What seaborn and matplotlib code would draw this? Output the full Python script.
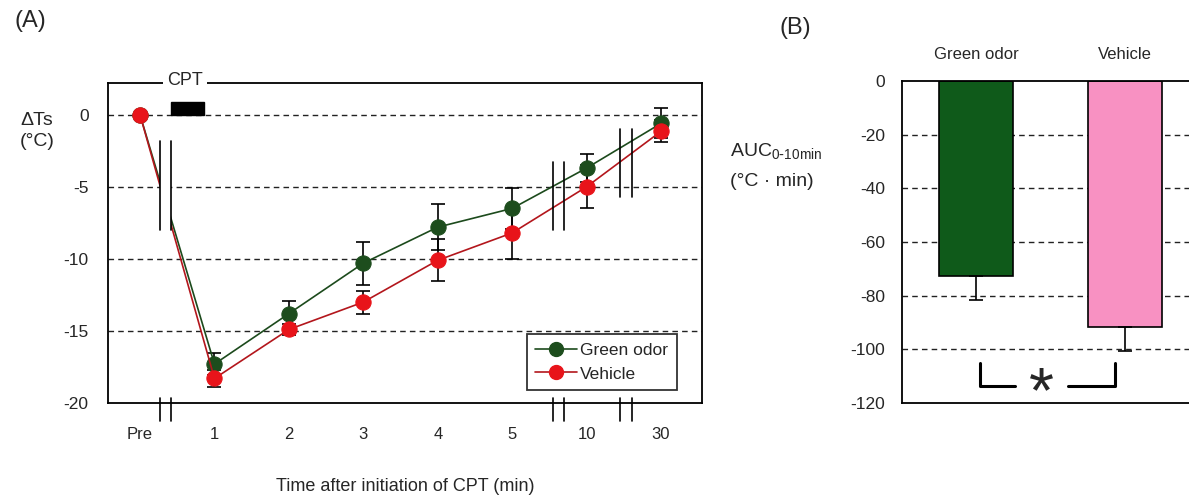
import numpy as np
import pandas as pd
import matplotlib
matplotlib.use("Agg")
import matplotlib.pyplot as plt
import matplotlib.transforms as mtransforms
from matplotlib.patches import Rectangle
from matplotlib.lines import Line2D
import seaborn as sns

# ---------------- data ----------------
time_labels = ["Pre", "1", "2", "3", "4", "5", "10", "30"]
green_mean = [0.0, -17.3, -13.8, -10.3, -7.8, -6.5, -3.7, -0.6]
green_sem = [0.0, 0.75, 0.9, 1.5, 1.6, 1.45, 0.95, 1.05]
vehicle_mean = [0.0, -18.3, -14.9, -13.0, -10.1, -8.2, -5.0, -1.15]
vehicle_sem = [0.0, 0.6, 0.4, 0.8, 1.45, 1.8, 1.5, 0.75]
series_names = ["Green odor", "Vehicle"]

auc_groups = ["Green odor", "Vehicle"]
auc_mean = [-72.5, -91.7]
auc_sem = [9.0, 9.0]

# ---------------- style ----------------
sns.set_style("white")
plt.rcParams["font.family"] = ["Liberation Sans", "DejaVu Sans"]
plt.rcParams["axes.unicode_minus"] = False

GREEN_LINE = "#1c4a1c"
GREEN_MK = "#1d4d1d"
RED_LINE = "#b3161c"
RED_MK = "#e8141a"

W, H = 1189, 495
fig = plt.figure(figsize=(W / 100, H / 100), dpi=100)

def fx(px):
    return px / W

def fy(py):
    return 1 - py / H

# ---------------- panel A ----------------
axA = fig.add_axes([fx(108), fy(403), fx(702) - fx(108), fy(83) - fy(403)])
pos = np.arange(len(time_labels))

axA.errorbar(pos[1:], green_mean[1:], yerr=green_sem[1:], fmt="none",
             ecolor="black", elinewidth=1.2, capsize=5, capthick=1.2, zorder=3)
axA.errorbar(pos[1:], vehicle_mean[1:], yerr=vehicle_sem[1:], fmt="none",
             ecolor="black", elinewidth=1.2, capsize=5, capthick=1.2, zorder=3)

sns.lineplot(x=pos, y=green_mean, color=GREEN_LINE, marker="o", markersize=11,
             markerfacecolor=GREEN_MK, markeredgecolor=GREEN_MK, lw=1.2,
             errorbar=None, ax=axA, zorder=4)
sns.lineplot(x=pos, y=vehicle_mean, color=RED_LINE, marker="o", markersize=11,
             markerfacecolor=RED_MK, markeredgecolor=RED_MK, lw=1.2,
             errorbar=None, ax=axA, zorder=5)

for yv in [0, -5, -10, -15]:
    axA.axhline(yv, color="#222222", lw=1.0, ls=(0, (4, 3)), zorder=1)

axA.set_xlim(-0.43, 7.55)
axA.set_ylim(-20, 2.2)
axA.set_yticks([0, -5, -10, -15, -20])
axA.set_yticklabels(["0", "-5", "-10", "-15", "-20"])
axA.set_xticks(pos)
axA.set_xticklabels(time_labels)
axA.set_xticks([1.5, 2.5, 3.5, 4.5], minor=True)
axA.tick_params(axis="x", which="major", length=0, pad=17, labelsize=12)
axA.tick_params(axis="x", which="minor", direction="in", length=4, width=1)
axA.tick_params(axis="y", length=0, pad=14, labelsize=12.5)
axA.set_xlabel("Time after initiation of CPT (min)", fontsize=13, labelpad=26)
axA.set_ylabel("")
for s in axA.spines.values():
    s.set_color("black")
    s.set_linewidth(1.3)

# break marks
def brk(x1, x2, ytop, ybot, mask=False):
    if mask:
        axA.add_patch(Rectangle((x1, ybot), x2 - x1, ytop - ybot, fc="white",
                                ec="none", zorder=6))
    for xv in (x1, x2):
        axA.plot([xv, xv], [ybot, ytop], color="black", lw=1.2, zorder=7)
    tr = mtransforms.blended_transform_factory(axA.transData, axA.transAxes)
    for xv in (x1, x2):
        axA.add_line(Line2D([xv, xv], [0.016, -0.055], transform=tr,
                            color="black", lw=1.2, clip_on=False, zorder=7))

brk(0.27, 0.42, -1.8, -8.0, mask=True)
brk(5.55, 5.70, -3.3, -8.0)
brk(6.45, 6.61, -1.0, -5.7)

# CPT bar and label
axA.add_patch(Rectangle((0.42, 0.0), 0.44, 0.9, fc="black", ec="black", zorder=6))
axA.text(0.61, 2.35, "CPT", ha="center", va="center", fontsize=13,
         bbox=dict(fc="white", ec="none", pad=3), clip_on=False, zorder=8)

handles = [
    Line2D([], [], color=GREEN_LINE, marker="o", markersize=10, lw=1.2,
           markerfacecolor=GREEN_MK, markeredgecolor=GREEN_MK),
    Line2D([], [], color=RED_LINE, marker="o", markersize=10, lw=1.2,
           markerfacecolor=RED_MK, markeredgecolor=RED_MK),
]
leg = axA.legend(handles, series_names, loc="lower right",
                 bbox_to_anchor=(0.958, 0.04), borderaxespad=0, fontsize=12.5,
                 frameon=True, fancybox=False, handlelength=2.4,
                 handletextpad=0.2, borderpad=0.5, labelspacing=0.5)
leg.get_frame().set_edgecolor("black")
leg.get_frame().set_linewidth(1.3)
leg.set_zorder(10)

fig.text(fx(30), fy(21), "(A)", fontsize=17, ha="center", va="center")
fig.text(fx(37), fy(131), "ΔTs\n(°C)", fontsize=14, ha="center", va="center",
         linespacing=1.3)

# ---------------- panel B ----------------
axB = fig.add_axes([fx(902), fy(403), fx(1199) - fx(902), fy(81) - fy(403)])
dfB = pd.DataFrame({"group": auc_groups, "auc": auc_mean})
for yv in [-20, -40, -60, -80, -100]:
    axB.axhline(yv, color="#222222", lw=1.0, ls=(0, (4, 3)), zorder=0)
sns.barplot(data=dfB, x="group", y="auc", hue="group",
            palette=["#0f5a1a", "#f891c2"], saturation=1, width=0.5,
            edgecolor="black", linewidth=1.2, legend=False, ax=axB, zorder=2)
axB.errorbar([0, 1], auc_mean, yerr=[auc_sem, [0, 0]], fmt="none",
             ecolor="black", elinewidth=1.2, capsize=5, capthick=1.2, zorder=3)

axB.set_xlim(-0.5, 1.5)
axB.set_ylim(-120, 0)
axB.set_yticks([0, -20, -40, -60, -80, -100, -120])
axB.set_yticklabels(["0", "-20", "-40", "-60", "-80", "-100", "-120"])
axB.xaxis.tick_top()
axB.tick_params(axis="x", length=0, pad=14, labelsize=12)
axB.tick_params(axis="y", length=0, pad=12, labelsize=12.5)
axB.set_xlabel("")
axB.set_ylabel("")
for k, s in axB.spines.items():
    s.set_color("black")
    s.set_linewidth(1.3)
axB.spines["right"].set_visible(False)

# significance bracket
axB.plot([0.022, 0.022, 0.263], [-105, -113.8, -113.8], color="black", lw=2.2,
         clip_on=False, zorder=4)
axB.plot([0.62, 0.936, 0.936], [-113.8, -113.8, -105], color="black", lw=2.2,
         clip_on=False, zorder=4)
axB.text(0.44, -117, "*", fontsize=46, ha="center", va="center", zorder=4)

fig.text(fx(795), fy(28), "(B)", fontsize=17, ha="center", va="center")
fig.text(fx(730), fy(152), r"AUC$_{\mathregular{0\text{-}10min}}$", fontsize=14,
         ha="left", va="center")
fig.text(fx(730), fy(181), "(°C · min)", fontsize=14, ha="left", va="center")

fig.savefig("out.png", dpi=100)
